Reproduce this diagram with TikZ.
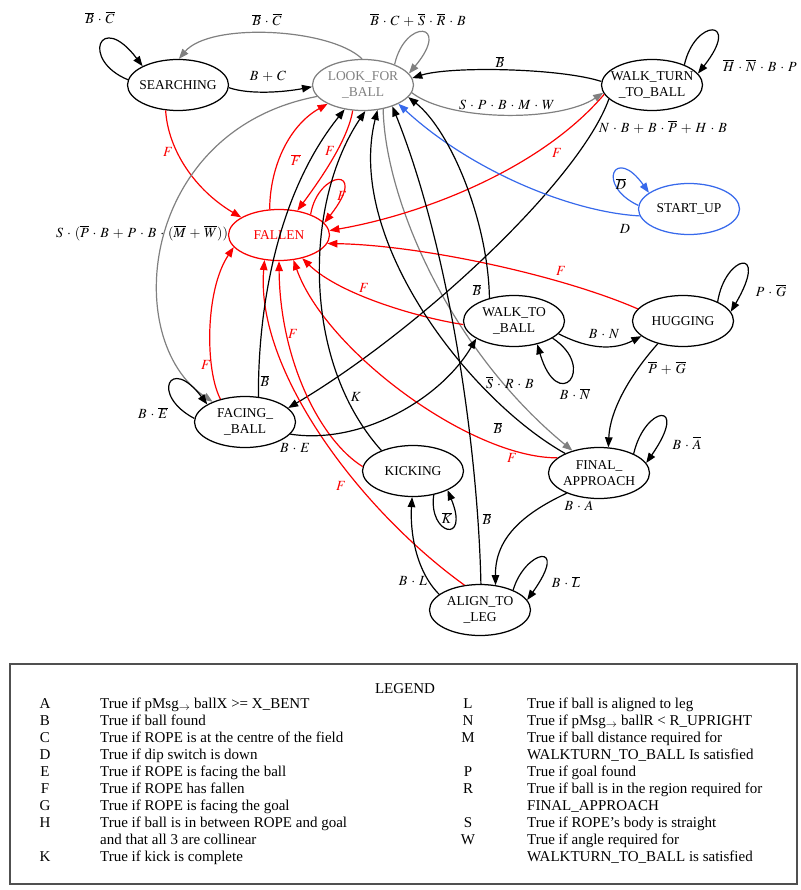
\documentclass[tikz,border=0pt]{standalone}
\usepackage{mathptmx}
\usepackage[no-math]{fontspec}
\setmainfont{Liberation Serif}
\usetikzlibrary{arrows.meta,shapes.geometric}
\definecolor{ared}{RGB}{250,0,0}
\definecolor{agray}{RGB}{128,128,128}
\definecolor{ablue}{RGB}{55,105,235}
\definecolor{aframe}{RGB}{80,80,80}
\newcommand\ctrbox[1]{\makebox[0pt]{#1}}
\newcommand\lblmath{\medmuskip=5mu\relax}
\begin{document}
\begin{tikzpicture}[x=1pt,y=-1pt,
  st/.style={ellipse,draw,line width=1.25pt,minimum width=101pt,minimum height=51pt,
    inner sep=0pt,align=center,font=\fontsize{13.5}{16}\selectfont},
  lbl/.style={inner sep=0pt,font={\fontsize{14}{16}\selectfont\lblmath}},
  rl/.style={lbl,text=ared},
  tr/.style={line width=1.2pt,-{Triangle[length=10pt,width=7.5pt]}},
  leg/.style={inner sep=0pt,font=\fontsize{15}{17}\selectfont,text height=10pt,text depth=3pt},
]
\path[use as bounding box] (0,0) rectangle (800,890);

% states
\node[st] (S) at (178,85) {\ctrbox{SEARCHING}};
\node[st,draw=agray,text=agray] (L) at (363,85) {\ctrbox{LOOK\_FOR}\\\ctrbox{\_BALL}};
\node[st] (WT) at (652,85) {\ctrbox{WALK\_TURN}\\\ctrbox{\_TO\_BALL}};
\node[st,draw=ablue] (SU) at (689,209) {\ctrbox{START\_UP}};
\node[st,draw=ared,text=ared] (FA) at (279,235) {\ctrbox{FALLEN}};
\node[st] (WB) at (514,321) {\ctrbox{WALK\_TO}\\\ctrbox{\_BALL}};
\node[st] (H) at (683,321) {\ctrbox{HUGGING}};
\node[st] (FB) at (245,422) {\ctrbox{FACING\_}\\\ctrbox{\_BALL}};
\node[st] (K) at (413,471) {\ctrbox{KICKING}};
\node[st] (FN) at (599,473) {\ctrbox{FINAL\_}\\\ctrbox{APPROACH}};
\node[st] (AL) at (480,610) {\ctrbox{ALIGN\_TO}\\\ctrbox{\_LEG}};

% SEARCHING
\draw[tr] (S.174) .. controls (80,60) and (100,10) .. (S.152);
\node[lbl] (l1) at (100,18) {$\overline{B}\cdot\overline{C}$};
\draw[tr] (S.-3) .. controls (250,95) and (285,92) .. (L.182);
\node[lbl] (l2) at (268,76) {$B+C$};
\draw[tr,ared] (S.244) .. controls (168,150) and (195,190) .. (FA.155);
\node[rl] (l3) at (168,152) {$F$};

% LOOK_FOR_BALL
\draw[tr,agray] (L.92) .. controls (330,28) and (210,22) .. (S.88);
\node[lbl] (l4) at (267,20) {$\overline{B}\cdot\overline{C}$};
\draw[tr,agray] (L.33) .. controls (405,18) and (452,22) .. (L.14);
\node[lbl] (l5) at (418,20) {$\overline{B}\cdot C+\overline{S}\cdot\overline{R}\cdot B$};
\draw[tr,agray] (L.-9) .. controls (450,122) and (560,122) .. (WT.189);
\node[lbl] (l6) at (507,105) {$S\cdot P\cdot B\cdot M\cdot W$};
\draw[tr,agray] (L.194) .. controls (140,130) and (120,340) .. (FB.148);
\node[lbl] (l7) at (142,233) {$S\cdot(\overline{P}\cdot B+P\cdot B\cdot(\overline{M}+\overline{W}))$};
\draw[tr,agray] (L.-50) .. controls (385,200) and (450,350) .. (FN.140);
\node[lbl] (l8) at (510,383) {$\overline{S}\cdot R\cdot B$};
\draw[tr,ared] (L.248) .. controls (348,140) and (320,180) .. (FA.53);
\node[rl] (l9) at (330,151) {$F$};

% WALK_TURN_TO_BALL
\draw[tr] (WT.176) .. controls (560,68) and (450,66) .. (L.8);
\node[lbl] (l10) at (500,62) {$\overline{B}$};
\draw[tr] (WT.32) .. controls (695,18) and (742,18) .. (WT.14);
\node[lbl] (l11) at (760,66) {$\overline{H}\cdot\overline{N}\cdot B\cdot P$};
\draw[tr] (WT.198) .. controls (580,180) and (420,330) .. (FB.18);
\node[lbl] (l12) at (663,127) {$N\cdot B+B\cdot\overline{P}+H\cdot B$};
\draw[tr,ared] (WT.191) .. controls (540,170) and (420,215) .. (FA.5);
\node[rl] (l13) at (557,153) {$F$};

% START_UP
\draw[tr,ablue] (SU.176) .. controls (595,185) and (615,145) .. (SU.158);
\node[lbl] (l14) at (621,184) {$\overline{D}$};
\draw[tr,ablue] (SU.188) .. controls (570,212) and (470,170) .. (L.-28);
\node[lbl] (l15) at (625,229) {$D$};

% FALLEN
\draw[tr,ared] (FA.110) .. controls (270,165) and (290,125) .. (L.208);
\node[rl] (l16) at (296,160) {$\overline{F}$};
\draw[tr,ared] (FA.33) .. controls (318,170) and (370,165) .. (FA.15);
\node[rl] (l17) at (342,196) {$F$};

% into FALLEN
\draw[tr,ared] (H.165) .. controls (560,275) and (420,245) .. (FA.-10);
\node[rl] (l18) at (561,271) {$F$};
\draw[tr,ared] (WB.184) .. controls (420,318) and (340,295) .. (FA.-45);
\node[rl] (l19) at (364,288) {$F$};
\draw[tr,ared] (FB.137) .. controls (205,370) and (205,290) .. (FA.195);
\node[rl] (l20) at (206,365) {$F$};
\draw[tr,ared] (FN.160) .. controls (470,458) and (325,350) .. (FA.-60);
\node[rl] (l21) at (512,458) {$F$};
\draw[tr,ared] (K.175) .. controls (320,440) and (280,360) .. (FA.270);
\node[rl] (l22) at (293,334) {$F$};
\draw[tr,ared] (AL.122) .. controls (360,510) and (255,370) .. (FA.240);
\node[rl] (l23) at (341,486) {$F$};

% back to LOOK_FOR_BALL
\draw[tr] (FB.62) .. controls (258,300) and (280,190) .. (L.233);
\node[lbl] (l24) at (265,381) {$\overline{B}$};
\draw[tr] (K.147) .. controls (300,360) and (305,200) .. (L.-85);
\node[lbl] (l25) at (356,397) {$K$};
\draw[tr] (FN.150) .. controls (470,400) and (345,240) .. (L.-60);
\node[lbl] (l26) at (498,428) {$\overline{B}$};
\draw[tr] (AL.88) .. controls (478,450) and (450,250) .. (L.-36);
\node[lbl] (l27) at (487,519) {$\overline{B}$};
\draw[tr] (WB.137) .. controls (488,220) and (450,130) .. (L.-15);
\node[lbl] (l28) at (477,290) {$\overline{B}$};

% WALK_TO_BALL
\draw[tr] (WB.-16) .. controls (590,350) and (615,350) .. (H.200);
\node[lbl] (l29) at (604,334) {$B\cdot N$};
\draw[tr] (WB.-24) .. controls (598,368) and (558,415) .. (WB.-45);
\node[lbl] (l30) at (575,394) {$B\cdot\overline{N}$};

% HUGGING
\draw[tr] (H.29) .. controls (725,255) and (770,245) .. (H.11);
\node[lbl] (l31) at (771,291) {$P\cdot\overline{G}$};
\draw[tr] (H.222) .. controls (630,375) and (610,410) .. (FN.70);
\node[lbl] (l32) at (667,368) {$\overline{P}+\overline{G}$};

% FINAL_APPROACH
\draw[tr] (FN.29) .. controls (645,405) and (690,400) .. (FN.12);
\node[lbl] (l33) at (687,443) {$B\cdot\overline{A}$};
\draw[tr] (FN.212) .. controls (520,515) and (495,540) .. (AL.58);
\node[lbl] (l34) at (579,506) {$B\cdot A$};

% ALIGN_TO_LEG
\draw[tr] (AL.31) .. controls (525,550) and (570,540) .. (AL.12);
\node[lbl] (l35) at (566,582) {$B\cdot\overline{L}$};
\draw[tr] (AL.159) .. controls (415,570) and (410,530) .. (K.268);
\node[lbl] (l36) at (413,581) {$B\cdot L$};

% KICKING
\draw[tr] (K.-49) .. controls (428,535) and (470,545) .. (K.-29);
\node[lbl] (l37) at (447,518) {$\overline{K}$};

% FACING_BALL
\draw[tr] (FB.176) .. controls (150,395) and (170,355) .. (FB.155);
\node[lbl] (l38) at (153,413) {$B\cdot\overline{E}$};
\draw[tr] (FB.-15) .. controls (360,445) and (440,400) .. (WB.205);
\node[lbl] (l39) at (295,448) {$B\cdot E$};

% legend
\draw[line width=1.2pt,draw=aframe] (10,664) rectangle (797,884);
\node[leg] (lg) at (405,690) {LEGEND};
\foreach \i/\k/\t in {0/A/{True if pMsg$_{\rightarrow}$ ballX >= X\_BENT},
  1/B/{True if ball found},
  2/C/{True if ROPE is at the centre of the field},
  3/D/{True if dip switch is down},
  4/E/{True if ROPE is facing the ball},
  5/F/{True if ROPE has fallen},
  6/G/{True if ROPE is facing the goal},
  7/H/{True if ball is in between ROPE and goal},
  8//{and that all 3 are collinear},
  9/K/{True if kick is complete}}{
  \node[leg] (lk\i) at (45,{705+16.95*\i}) {\k};
  \node[leg,anchor=west] (lt\i) at (100,{705+16.95*\i}) {\t};
}
\foreach \i/\k/\t in {0/L/{True if ball is aligned to leg},
  1/N/{True if pMsg$_{\rightarrow}$ ballR < R\_UPRIGHT},
  2/M/{True if ball distance required for},
  3//{WALKTURN\_TO\_BALL Is satisfied},
  4/P/{True if goal found},
  5/R/{True if ball is in the region required for},
  6//{FINAL\_APPROACH},
  7/S/{True if ROPE’s body is straight},
  8/W/{True if angle required for},
  9//{WALKTURN\_TO\_BALL is satisfied}}{
  \node[leg] (rk\i) at (468,{705+16.95*\i}) {\k};
  \node[leg,anchor=west] (rt\i) at (527,{705+16.95*\i}) {\t};
}
\end{tikzpicture}
\end{document}
